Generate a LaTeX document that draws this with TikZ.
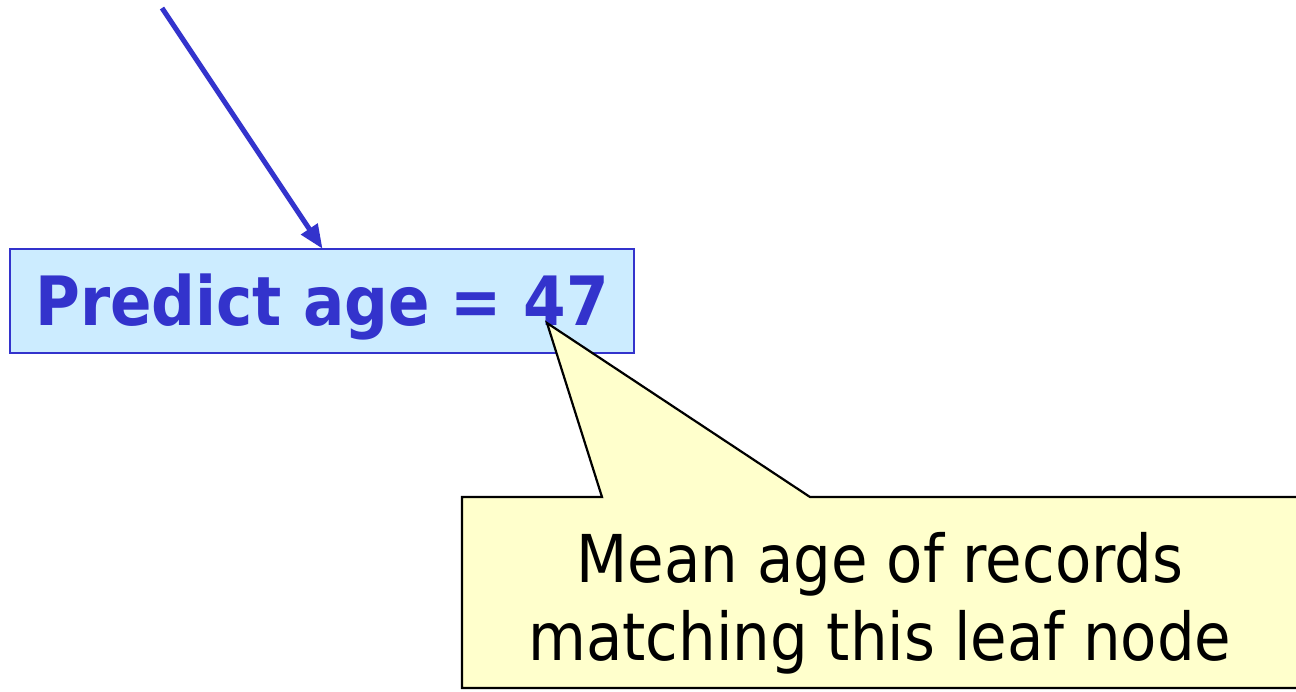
\documentclass[tikz,border=0pt]{standalone}
\usepackage{fontspec}
\setmainfont{DejaVu Sans Condensed}
\usetikzlibrary{arrows.meta}
\definecolor{pblue}{HTML}{3333CC}
\definecolor{boxfill}{HTML}{CCECFF}
\definecolor{callfill}{HTML}{FFFFCC}
\tikzset{
  predbox/.style={draw=pblue, line width=2pt, fill=boxfill, minimum width=624pt, minimum height=104pt, inner sep=0pt, text=pblue, font=\fontsize{68pt}{80pt}\selectfont\bfseries, text height=49pt, text depth=0pt},
  ptr/.style={draw=pblue, line width=5pt, -{Triangle[length=24pt,width=19pt]}, shorten >=-1pt},
  callout/.style={draw=black, line width=2.2pt, fill=callfill, line join=miter},
  calltext/.style={font=\fontsize{66pt}{78pt}\selectfont, text=black, inner sep=0pt, anchor=base}
}
\begin{document}
\begin{tikzpicture}[x=1pt, y=-1pt]
\useasboundingbox (0,0) rectangle (1296,691);
\node[predbox] (pred) at (322,301) {Predict age = 47};
\coordinate (src) at (162,8);
\draw[ptr] (src) -- (pred.north);
\coordinate (tip) at (547,323);
\draw[callout] (tip) -- (810,497) -- (1310,497) -- (1310,688) -- (462,688) -- (462,497) -- (602,497) -- cycle;
\node[calltext] (l1) at (880,582) {Mean age of records};
\node[calltext] (l2) at (880,660) {matching this leaf node};
\end{tikzpicture}
\end{document}
